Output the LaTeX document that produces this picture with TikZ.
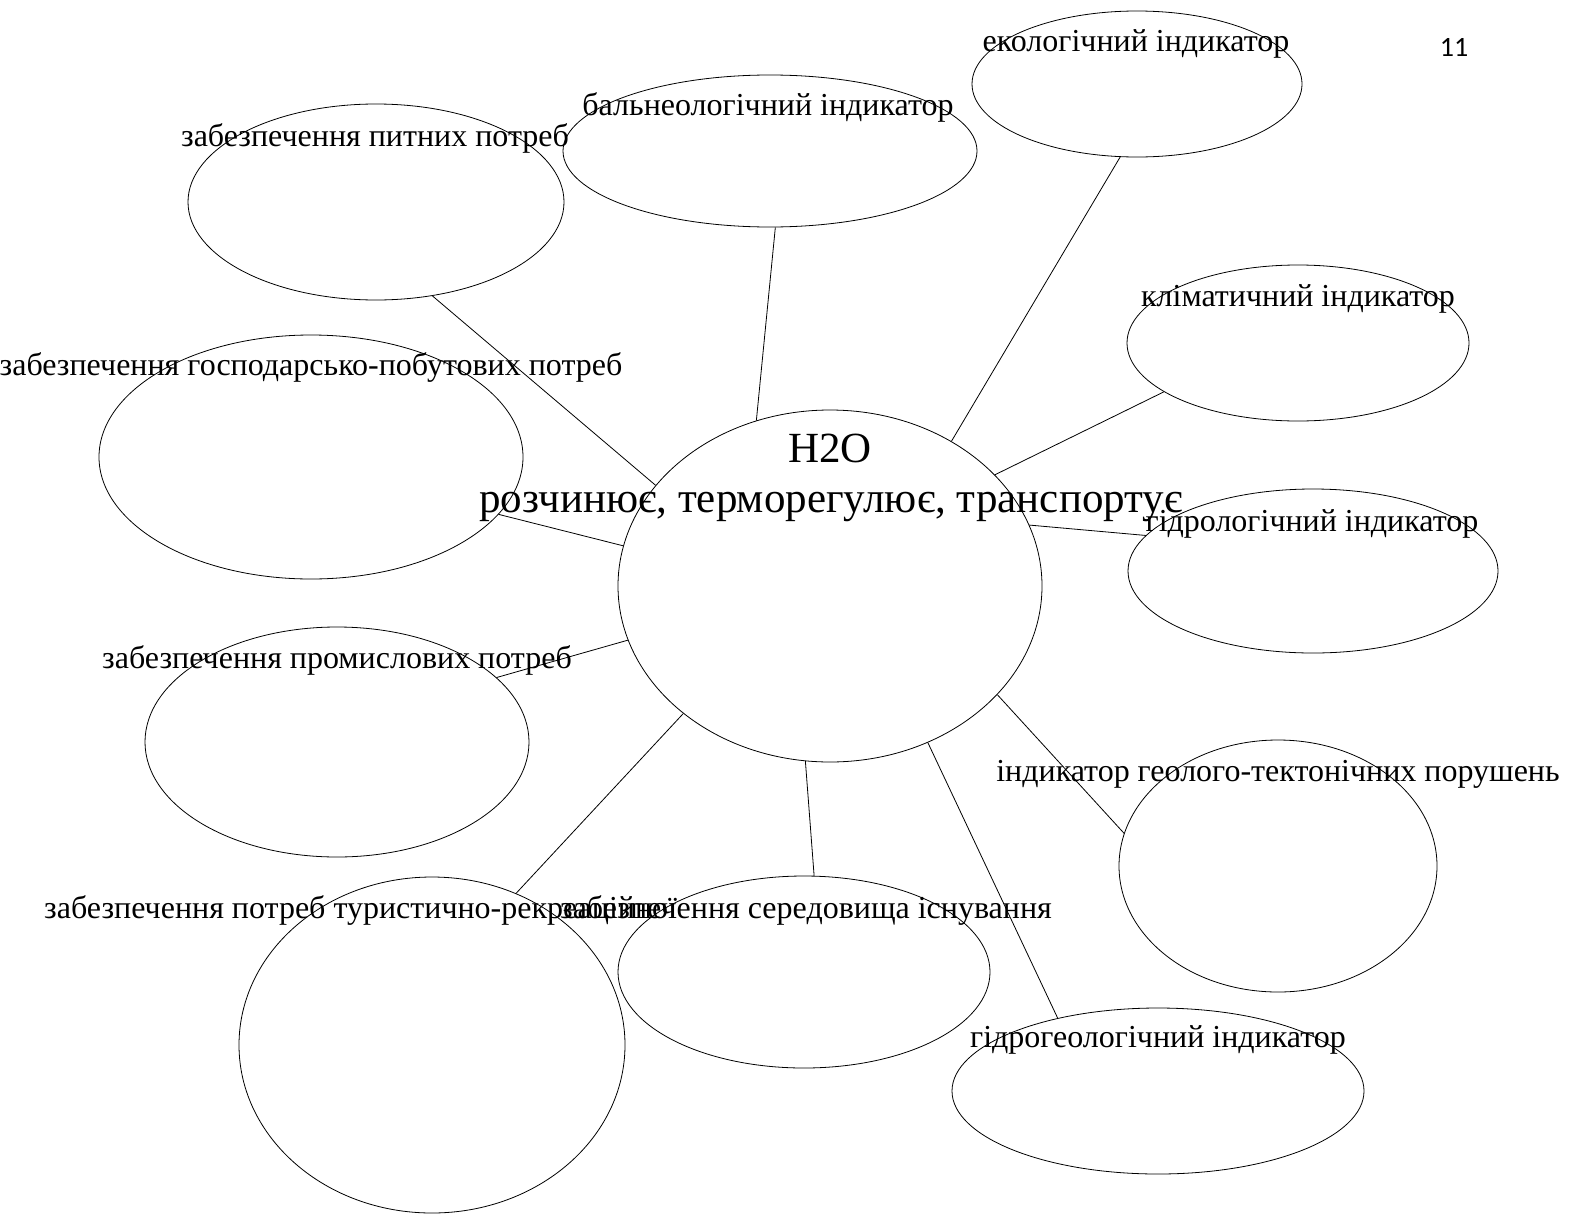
\documentclass[tikz,border=0pt]{standalone}
\usepackage{fontspec}
\setmainfont{Liberation Serif}
\newfontfamily\numfont{Carlito}
\usetikzlibrary{shapes.geometric}
\tikzset{
  oval/.style={draw, ellipse, inner sep=0pt, line width=0.8pt},
  lbl/.style={font=\fontsize{32}{36}\selectfont, inner sep=0pt, anchor=base},
  big/.style={font=\fontsize{43}{48}\selectfont, inner sep=0pt, anchor=base},
  conn/.style={line width=0.8pt}
}
\begin{document}
\begin{tikzpicture}[x=1pt,y=-1pt]
\useasboundingbox (0,0) rectangle (1576,1218);
% central ellipse
\node[oval, minimum width=424, minimum height=352] (c) at (830,586) {};
% outer ellipses
\node[oval, minimum width=376, minimum height=196] (e1) at (376,202) {};
\node[oval, minimum width=414, minimum height=152] (e2) at (770,151) {};
\node[oval, minimum width=330, minimum height=146] (e3) at (1137,84) {};
\node[oval, minimum width=342, minimum height=156] (e4) at (1298,343) {};
\node[oval, minimum width=370, minimum height=164] (e5) at (1313,571) {};
\node[oval, minimum width=318, minimum height=252] (e6) at (1278,866) {};
\node[oval, minimum width=412, minimum height=166] (e7) at (1158,1091) {};
\node[oval, minimum width=372, minimum height=192] (e8) at (804,972) {};
\node[oval, minimum width=386, minimum height=336] (e9) at (432,1045) {};
\node[oval, minimum width=384, minimum height=230] (e10) at (337,742) {};
\node[oval, minimum width=424, minimum height=244] (e11) at (311,457) {};
% connectors
\draw[conn] (c.150.2) -- (e1.-59.2);
\draw[conn] (c.114.3) -- (e2.-86.2);
\draw[conn] (c.50.5) -- (e3.-103.1);
\draw[conn] (c.34.2) -- (e4.-160.1);
\draw[conn] (c.17.7) -- (e5.168.9);
\draw[conn] (c.-33.6) -- (e6.168.8);
\draw[conn] (c.-58.1) -- (e7.144.9);
\draw[conn] (c.-98.2) -- (e8.84);
\draw[conn] (c.-139.3) -- (e9.61.9);
\draw[conn] (c.-165.7) -- (e10.22.4);
\draw[conn] (c.169.7) -- (e11.-17.7);
% labels
\node[big] (t0) at (830,462) {H2O};
\node[big] (t00) at (831,512) {розчинює, терморегулює, транспортує};
\node[lbl] (t1) at (375,146) {забезпечення питних потреб};
\node[lbl] (t2) at (768,115) {бальнеологічний індикатор};
\node[lbl] (t3) at (1136,51) {екологічний індикатор};
\node[lbl] (t4) at (1298,306) {кліматичний індикатор};
\node[lbl] (t5) at (1312,531) {гідрологічний індикатор};
\node[lbl] (t6) at (1278,781) {індикатор геолого-тектонічних порушень};
\node[lbl] (t7) at (1158,1047) {гідрогеологічний індикатор};
\node[lbl] (t8) at (806,918) {забезпечення середовища існування};
\node[lbl, anchor=base west] (t9) at (44,918) {забезпечення потреб туристично-рекреаційної};
\node[lbl] (t10) at (337,668) {забезпечення промислових потреб};
\node[lbl] (t11) at (311,375) {забезпечення господарсько-побутових потреб};
\node[font=\numfont\fontsize{28}{32}\selectfont, inner sep=0pt] (pg) at (1454,47) {11};
\end{tikzpicture}
\end{document}
